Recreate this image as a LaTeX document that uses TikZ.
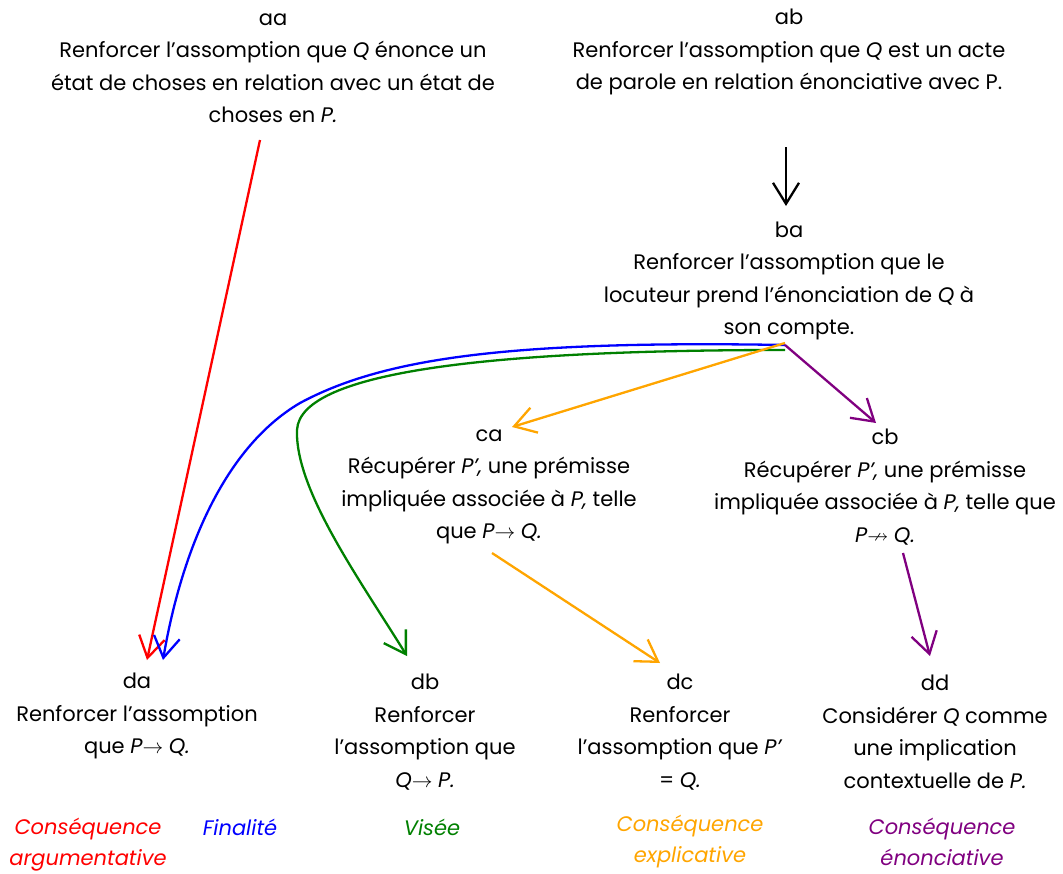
\documentclass[tikz,border=0pt]{standalone}
\usepackage{amssymb}
\usepackage{fontspec}
\setmainfont{Poppins}
\usetikzlibrary{arrows.meta}
\definecolor{cgreen}{RGB}{0,128,0}
\definecolor{corange}{RGB}{255,165,0}
\definecolor{cpurple}{RGB}{128,0,128}
\begin{document}
\begin{tikzpicture}[x=1pt,y=-1pt,
  txt/.style={align=center,inner sep=0pt,font=\fontsize{21}{32.5}\selectfont},
  lbl/.style={align=center,inner sep=0pt,font=\fontsize{21}{31}\selectfont\itshape},
  link/.style={line width=2.3pt,-{Straight Barb[length=21pt,width=26pt,line width=2.3pt]}}]
\useasboundingbox (0,0) rectangle (1063,873);

% statements
\node[txt] (aa) at (273,68) {aa\\Renforcer l’assomption que \textit{Q} énonce un\\état de choses en relation avec un état de\\choses en \textit{P.}};
\node[txt] (ab) at (789,52) {ab\\Renforcer l’assomption que \textit{Q} est un acte\\de parole en relation énonciative avec P.};
\node[txt] (ba) at (789,281) {ba\\Renforcer l’assomption que le\\locuteur prend l’énonciation de \textit{Q} à\\son compte.};
\node[txt] (ca) at (489,487) {ca\\Récupérer \textit{P’,} une prémisse\\impliquée associée à \textit{P,} telle\\que \textit{P}$\rightarrow$ \textit{Q.}};
\node[txt] (cb) at (885,487) {cb\\Récupérer \textit{P’,} une prémisse\\impliquée associée à \textit{P,} telle que\\\textit{P}$\nrightarrow$ \textit{Q.}};
\node[txt] (da) at (137,716) {da\\Renforcer l’assomption\\que \textit{P}$\rightarrow$ \textit{Q.}};
\node[txt] (db) at (425,732) {db\\Renforcer\\l’assomption que\\\textit{Q}$\rightarrow$ \textit{P.}};
\node[txt] (dc) at (680,732) {dc\\Renforcer\\l’assomption que \textit{P’}\\= \textit{Q.}};
\node[txt] (dd) at (935,732) {dd\\Considérer \textit{Q} comme\\une implication\\contextuelle de \textit{P.}};

% relation names
\node[lbl,text=red] (la) at (88,845) {Conséquence\\argumentative};
\node[lbl,text=blue] (lb) at (240,827) {Finalité};
\node[lbl,text=cgreen] (lc) at (432,827) {Visée};
\node[lbl,text=corange] (ld) at (690,842) {Conséquence\\explicative};
\node[lbl,text=cpurple] (le) at (942,842) {Conséquence\\énonciative};

% connector ends
\coordinate (aaout) at (260,140);
\coordinate (about) at (786,147);
\coordinate (bain) at (786,206);
\coordinate (baout) at (785,345);
\coordinate (baoutg) at (785,350);
\coordinate (caout) at (492,553);
\coordinate (cbout) at (903,553);
\coordinate (dain1) at (147,660);
\coordinate (dain2) at (163,660);
\coordinate (dbin) at (407,656);
\coordinate (cain) at (512,427);
\coordinate (cbin) at (876,423);
\coordinate (dcin) at (660,663);
\coordinate (ddin) at (930,656);
\coordinate (bturn) at (300,403);
\coordinate (gturn) at (297,430);

\draw[link,black] (about) -- (bain);
\draw[link,red] (aaout) -- (dain1);
\draw[link,blue] (baout) .. controls (500,340) and (380,360) .. (bturn)
                         .. controls (220,450) and (180,560) .. (dain2);
\draw[link,cgreen] (baoutg) .. controls (500,350) and (300,370) .. (gturn)
                            .. controls (295,490) and (360,580) .. (dbin);
\draw[link,corange] ([yshift=2pt]baout) -- (cain);
\draw[link,cpurple] (baout) -- (cbin);
\draw[link,corange] (caout) -- (dcin);
\draw[link,cpurple] (cbout) -- (ddin);
\end{tikzpicture}
\end{document}
